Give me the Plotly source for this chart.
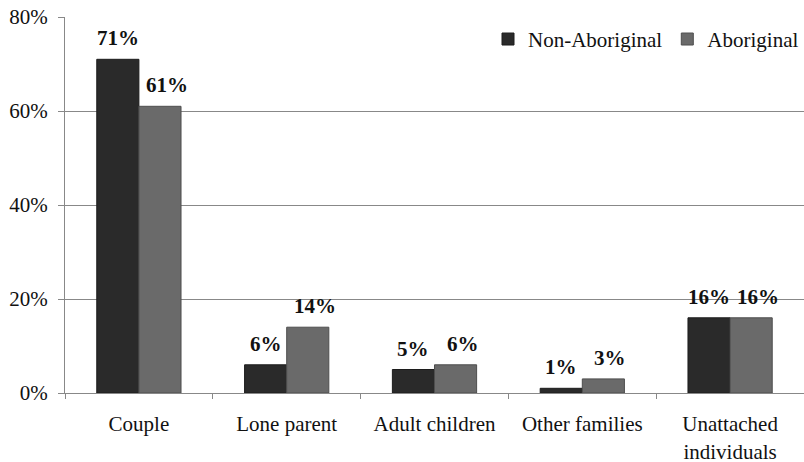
import plotly.graph_objects as go

categories = ["Couple", "Lone parent", "Adult children", "Other families", "Unattached<br>individuals"]
non_aboriginal = [71, 6, 5, 1, 16]
aboriginal = [61, 14, 6, 3, 16]
y_ticks = [0, 20, 40, 60, 80]
y_tick_labels = ["0%", "20%", "40%", "60%", "80%"]

FONT = "Liberation Serif, Times New Roman, serif"
BARGAP = 0.43
BAR_W = (1 - BARGAP) / 2

fig = go.Figure()
fig.add_trace(go.Bar(
    name="Non-Aboriginal", x=categories, y=non_aboriginal,
    marker=dict(color="#2a2a2a", line=dict(color="#1c1c1c", width=1)),
))
fig.add_trace(go.Bar(
    name="Aboriginal", x=categories, y=aboriginal,
    marker=dict(color="#6a6a6a", line=dict(color="#4e4e4e", width=1)),
))

# value labels above bars (positioned through the axes)
annotations = []
for series, offset, xs in ((non_aboriginal, -BAR_W / 2, 0), (aboriginal, BAR_W / 2, 7)):
    for i, v in enumerate(series):
        annotations.append(dict(
            x=i + offset, y=v, xref="x", yref="y", text=f"{v}%",
            showarrow=False, yanchor="bottom", xanchor="center",
            yshift=7, xshift=xs,
            font=dict(family=FONT, size=21, color="#111111", weight="bold"),
        ))

fig.update_layout(
    width=804, height=462,
    margin=dict(l=65, r=0, t=17, b=69),
    paper_bgcolor="white", plot_bgcolor="white",
    barmode="group", bargap=BARGAP, bargroupgap=0,
    font=dict(family=FONT, size=21, color="#111111"),
    showlegend=True,
    legend=dict(orientation="h", x=1.0, xanchor="right", y=0.995, yanchor="top",
                font=dict(family=FONT, size=21, color="#111111"),
                bgcolor="rgba(0,0,0,0)", itemwidth=30, tracegroupgap=0),
    annotations=annotations,
)
fig.update_xaxes(
    type="category", tickson="boundaries", ticks="outside", ticklen=5,
    tickcolor="#888888", showline=True, linecolor="#888888", linewidth=1,
    showgrid=False, automargin=False, ticklabelstandoff=12,
    tickfont=dict(family=FONT, size=21, color="#111111"),
)
fig.update_yaxes(
    range=[0, 80], tickvals=y_ticks, ticktext=y_tick_labels,
    ticks="outside", ticklen=6, tickcolor="#888888",
    showline=True, linecolor="#888888", linewidth=1,
    showgrid=True, gridcolor="#888888", gridwidth=1, zeroline=False,
    automargin=False, ticklabelstandoff=6,
    tickfont=dict(family=FONT, size=21, color="#111111"),
)

fig.write_html("out.html", config={"displayModeBar": False},
               post_script="document.body.style.margin='0';")
